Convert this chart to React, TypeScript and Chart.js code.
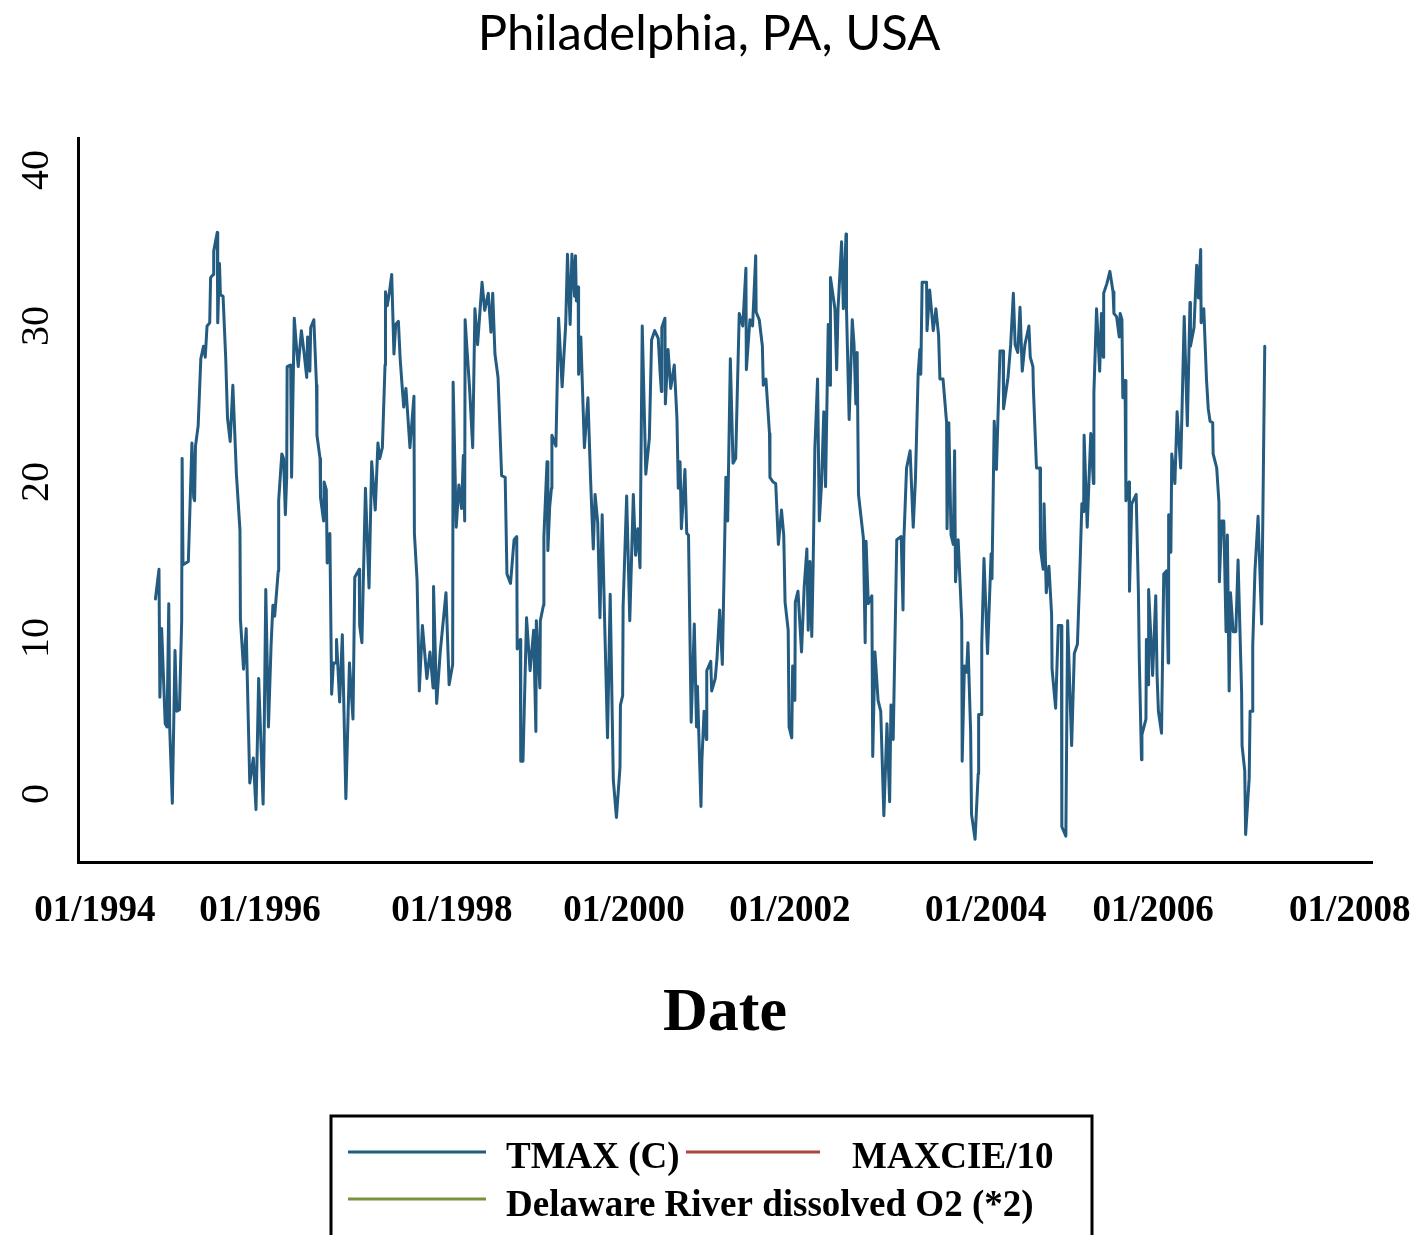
import React, { useEffect, useRef } from "react";
import { Chart, registerables } from "chart.js";

Chart.register(...registerables);

const TITLE = "Philadelphia, PA, USA";
const X_AXIS_TITLE = "Date";
const SERIES_LABELS = ["TMAX (C)", "MAXCIE/10", "Delaware River dissolved O2 (*2)"];
const SERIES_COLORS = ["#245b80", "#ad4340", "#77933c"];

// x axis in decimal years
const X_RANGE = [1994.0, 2008.54];
const X_TICK_POSITIONS = [1994.19, 1996.045, 1998.2, 2000.135, 2002.0, 2004.2, 2006.08, 2008.29];
const X_TICK_LABELS = ["01/1994", "01/1996", "01/1998", "01/2000", "01/2002", "01/2004", "01/2006", "01/2008"];

const Y_RANGE = [-4.36, 42.05];
const Y_TICKS = [0, 10, 20, 30, 40];

// sample dates (decimal years)
const DATES = [
  1994.87, 1994.91, 1994.92, 1994.94, 1994.98, 1995.0, 1995.02, 1995.03, 1995.06, 1995.09, 1995.11, 1995.14,
  1995.165, 1995.17, 1995.18, 1995.24, 1995.28, 1995.3, 1995.31, 1995.32, 1995.35, 1995.38, 1995.41, 1995.43,
  1995.45, 1995.48, 1995.49, 1995.52, 1995.525, 1995.565, 1995.57, 1995.59, 1995.6, 1995.63, 1995.66, 1995.68,
  1995.71, 1995.74, 1995.78, 1995.82, 1995.825, 1995.86, 1995.89, 1995.9, 1995.93, 1995.97, 1996.0, 1996.03,
  1996.08, 1996.09, 1996.11, 1996.14, 1996.17, 1996.19, 1996.21, 1996.25, 1996.255, 1996.29, 1996.31, 1996.33,
  1996.345, 1996.35, 1996.39, 1996.4, 1996.43, 1996.46, 1996.475, 1996.51, 1996.54, 1996.57, 1996.58, 1996.605,
  1996.615, 1996.65, 1996.68, 1996.685, 1996.72, 1996.725, 1996.76, 1996.765, 1996.79, 1996.8, 1996.83, 1996.85,
  1996.87, 1996.9, 1996.905, 1996.94, 1996.97, 1997.01, 1997.05, 1997.09, 1997.11, 1997.16, 1997.165, 1997.19,
  1997.23, 1997.27, 1997.3, 1997.34, 1997.37, 1997.39, 1997.42, 1997.45, 1997.455, 1997.475, 1997.5, 1997.525,
  1997.55, 1997.57, 1997.6, 1997.62, 1997.64, 1997.66, 1997.685, 1997.73, 1997.775, 1997.78, 1997.81, 1997.835,
  1997.87, 1997.92, 1997.955, 1997.99, 1997.995, 1998.03, 1998.07, 1998.135, 1998.17, 1998.21, 1998.215, 1998.25,
  1998.28, 1998.31, 1998.33, 1998.345, 1998.35, 1998.37, 1998.4, 1998.435, 1998.46, 1998.49, 1998.54, 1998.57,
  1998.61, 1998.64, 1998.66, 1998.685, 1998.72, 1998.76, 1998.8, 1998.82, 1998.86, 1998.9, 1998.93, 1998.935,
  1998.97, 1998.975, 1999.0, 1999.04, 1999.08, 1999.12, 1999.145, 1999.15, 1999.19, 1999.195, 1999.23, 1999.235,
  1999.27, 1999.28, 1999.3, 1999.32, 1999.325, 1999.37, 1999.4, 1999.44, 1999.48, 1999.5, 1999.53, 1999.55,
  1999.58, 1999.59, 1999.6, 1999.62, 1999.625, 1999.65, 1999.69, 1999.73, 1999.76, 1999.79, 1999.81, 1999.84,
  1999.865, 1999.89, 1999.92, 1999.95, 1999.98, 2000.015, 2000.05, 2000.09, 2000.095, 2000.12, 2000.125, 2000.165,
  2000.2, 2000.24, 2000.265, 2000.29, 2000.315, 2000.34, 2000.38, 2000.42, 2000.445, 2000.48, 2000.52, 2000.54,
  2000.555, 2000.56, 2000.595, 2000.6, 2000.63, 2000.66, 2000.7, 2000.73, 2000.745, 2000.765, 2000.78, 2000.82,
  2000.84, 2000.86, 2000.89, 2000.925, 2000.95, 2000.96, 2001.0, 2001.01, 2001.035, 2001.06, 2001.065, 2001.11,
  2001.12, 2001.16, 2001.18, 2001.21, 2001.24, 2001.26, 2001.28, 2001.3, 2001.33, 2001.36, 2001.39, 2001.43,
  2001.47, 2001.505, 2001.51, 2001.55, 2001.58, 2001.615, 2001.62, 2001.655, 2001.69, 2001.7, 2001.73, 2001.77,
  2001.775, 2001.81, 2001.84, 2001.87, 2001.905, 2001.93, 2001.945, 2001.98, 2001.99, 2002.02, 2002.03, 2002.055,
  2002.06, 2002.09, 2002.13, 2002.16, 2002.19, 2002.205, 2002.225, 2002.245, 2002.26, 2002.28, 2002.31, 2002.33,
  2002.355, 2002.38, 2002.4, 2002.43, 2002.45, 2002.455, 2002.505, 2002.525, 2002.54, 2002.58, 2002.6, 2002.63,
  2002.635, 2002.665, 2002.7, 2002.72, 2002.74, 2002.755, 2002.77, 2002.825, 2002.845, 2002.855, 2002.88, 2002.92,
  2002.93, 2002.955, 2002.99, 2003.02, 2003.055, 2003.09, 2003.12, 2003.135, 2003.16, 2003.2, 2003.25, 2003.27,
  2003.28, 2003.31, 2003.35, 2003.385, 2003.41, 2003.44, 2003.46, 2003.47, 2003.485, 2003.535, 2003.54, 2003.57,
  2003.61, 2003.64, 2003.67, 2003.685, 2003.72, 2003.76, 2003.765, 2003.785, 2003.81, 2003.835, 2003.85, 2003.86,
  2003.89, 2003.93, 2003.935, 2003.96, 2003.985, 2004.0, 2004.03, 2004.04, 2004.08, 2004.115, 2004.12, 2004.15,
  2004.155, 2004.18, 2004.22, 2004.26, 2004.27, 2004.295, 2004.32, 2004.34, 2004.36, 2004.395, 2004.4, 2004.45,
  2004.48, 2004.51, 2004.53, 2004.56, 2004.585, 2004.61, 2004.64, 2004.685, 2004.7, 2004.73, 2004.735, 2004.77,
  2004.81, 2004.815, 2004.845, 2004.855, 2004.88, 2004.91, 2004.94, 2004.945, 2004.985, 2005.015, 2005.05, 2005.055,
  2005.1, 2005.12, 2005.165, 2005.195, 2005.23, 2005.255, 2005.28, 2005.3, 2005.305, 2005.34, 2005.38, 2005.41,
  2005.415, 2005.445, 2005.48, 2005.5, 2005.52, 2005.525, 2005.56, 2005.595, 2005.63, 2005.64, 2005.67, 2005.7,
  2005.71, 2005.73, 2005.74, 2005.765, 2005.775, 2005.81, 2005.815, 2005.84, 2005.89, 2005.915, 2005.925, 2005.95,
  2005.955, 2006.0, 2006.005, 2006.025, 2006.03, 2006.075, 2006.11, 2006.125, 2006.14, 2006.175, 2006.2, 2006.23,
  2006.25, 2006.255, 2006.28, 2006.29, 2006.325, 2006.35, 2006.39, 2006.43, 2006.465, 2006.495, 2006.5, 2006.54,
  2006.57, 2006.59, 2006.615, 2006.62, 2006.65, 2006.68, 2006.7, 2006.72, 2006.75, 2006.755, 2006.795, 2006.82,
  2006.825, 2006.85, 2006.875, 2006.9, 2006.915, 2006.935, 2006.95, 2006.98, 2007.01, 2007.035, 2007.075, 2007.08,
  2007.11, 2007.12, 2007.16, 2007.17, 2007.195, 2007.2, 2007.225, 2007.26, 2007.3, 2007.335,
];

// daily maximum temperature (C)
const TMAX = [
  12.5, 14.4, 6.2, 10.6, 4.5, 4.3, 12.2, 4.3, -0.6, 9.2, 5.3, 5.4,
  11.1, 21.5, 14.7, 14.9, 22.5, 19, 18.8, 22.3, 23.6, 27.9, 28.7, 28.0,
  30, 30.2, 33.1, 33.3, 34.8, 36, 30.2, 34, 32, 31.9, 27.9, 24.1,
  22.6, 26.2, 20.5, 16.9, 11.2, 8.0, 10.6, 8.0, 0.7, 2.3, -1, 7.4,
  -0.65, 2.9, 13.1, 4.3, 9.6, 12.1, 11.4, 14.3, 18.8, 21.8, 21.5, 17.9,
  20.3, 27.4, 27.5, 20.3, 30.5, 28.3, 27.4, 29.7, 28.3, 26.7, 29.3, 27.1,
  29.9, 30.4, 26.2, 23, 21.5, 19, 17.5, 20, 19.5, 14.8, 16.7, 6.4,
  8.4, 8.4, 9.9, 5.9, 10.2, -0.3, 8.4, 4.8, 13.9, 14.4, 10.8, 9.7,
  19.6, 13.2, 21.3, 18.2, 22.5, 21.5, 22.2, 27.5, 32.2, 31.3, 32.2, 33.3,
  28.2, 30.1, 30.3, 27.9, 26.3, 24.8, 26, 22.2, 25.5, 16.7, 13.7, 6.6,
  10.8, 7.4, 9.1, 6.8, 13.3, 5.8, 9.1, 12.9, 7.0, 8.3, 26.4, 17.1,
  19.8, 18.3, 21.7, 17.5, 30.4, 28.6, 26, 22.2, 31.1, 28.8, 32.8, 31,
  32.1, 29.6, 32.1, 28.2, 26.7, 20.4, 20.3, 14.1, 13.5, 16.3, 16.5, 9.3,
  9.9, 2.1, 2.1, 11.3, 7.9, 10.5, 4.0, 11.1, 6.8, 11.1, 12.1, 16.5,
  21.3, 15.6, 18.4, 19.6, 23, 22.3, 30.5, 26.1, 30.1, 34.6, 30.1, 34.6,
  31.9, 34.5, 31.6, 32.5, 26.9, 29.3, 22.2, 25.4, 20.1, 15.7, 19.2, 17.4,
  11.3, 17.9, 10.5, 3.6, 12.8, 0.9, -1.5, 1.7, 5.7, 6.3, 12, 19.1,
  11.1, 19.2, 15.3, 17, 14.5, 30, 20.5, 22.8, 29.1, 29.7, 29.2, 27.1,
  25.8, 29.9, 30.5, 25, 28.5, 26, 27.5, 24.1, 19.6, 21.3, 17, 20.8,
  16.7, 16.6, 4.6, 10.9, 4.3, 6.9, -0.8, 2.1, 5.3, 3.5, 7.9, 8.5,
  6.6, 7.4, 8.7, 11.8, 8.3, 14.3, 20.3, 17.5, 27.9, 21.2, 21.5, 30.8,
  30, 33.7, 27.2, 30.4, 30, 34.5, 30.9, 30.4, 28.7, 26.2, 26.6, 23.1,
  20.3, 20, 19.9, 16, 18.2, 16.6, 12.3, 10.5, 4.3, 3.6, 8.2, 6,
  12.3, 13, 9.1, 13.3, 15.7, 10.5, 14.9, 10.1, 14.5, 22.2, 26.6, 17.5,
  19.9, 24.5, 19.7, 30.1, 26.2, 33.1, 31.1, 27.2, 31.1, 35.4, 31.1, 35.9,
  31.1, 24, 30.4, 28.8, 25, 28.3, 19.2, 16.4, 9.7, 16.2, 12.2, 12.7,
  2.4, 9.1, 6, 5.3, -1.4, 4.5, -0.5, 5.7, 3.5, 16.3, 16.5, 11.8,
  16.3, 20.9, 22.0, 17.1, 20.2, 26.9, 28.5, 26.9, 32.8, 32.8, 29.7, 32.3,
  29.7, 31.1, 29.4, 26.6, 26.6, 23.8, 17, 23.8, 16.6, 16, 22, 13.6,
  16.3, 11.1, 2.1, 8.2, 7.8, 9.7, 4.0, -1.3, -2.9, 1.3, 5.1, 5.1,
  9.6, 15.1, 9.0, 15.4, 13.8, 23.9, 20.8, 24.7, 28.4, 28.4, 24.7, 26.7,
  28.8, 32.1, 28.8, 28.3, 31.2, 27.1, 28.8, 30, 28, 27.4, 26, 20.9,
  20.9, 15.7, 14.4, 18.6, 12.9, 14.6, 11.5, 8.0, 5.5, 10.8, 10.8, -2.1,
  -2.7, 11.1, 3.1, 9.0, 9.6, 13.8, 18.6, 18.1, 23, 17.1, 23.1, 19.9,
  25.7, 31.1, 27.1, 30.8, 28, 32.1, 32.7, 33.5, 32.2, 30.8, 30.6, 29.3,
  30.8, 30.4, 25.4, 26.5, 18.8, 20, 13, 18.6, 19.2, 13, 8.7, 2.2,
  3.8, 4.8, 9.9, 7, 13.1, 7.6, 12.7, 7.6, 5.3, 3.9, 14.1, 14.3,
  8.4, 17.9, 15.5, 21.8, 19.9, 24.5, 20.9, 30.6, 23.6, 31.5, 28.7, 29.9,
  33.9, 31.8, 34.9, 30.2, 31.1, 26.6, 24.7, 23.9, 23.8, 21.8, 20.9, 18.7,
  13.6, 17.5, 17.5, 10.4, 16.6, 6.6, 12.9, 10.4, 10.4, 15, 6.5, 3.1,
  1.5, -2.6, 1, 5.3, 5.3, 9.5, 14.3, 17.8, 10.9, 28.7,
];

// series shown in the legend only (no samples drawn)
const MAXCIE_DIV10: number[] = [];
const DISSOLVED_O2_X2: number[] = [];

const SERIF = '"Liberation Serif", "DejaVu Serif", serif';

const rotatedYLabels = {
  id: "rotatedYLabels",
  afterDraw(chart: any) {
    const ctx = chart.ctx;
    const ys = chart.scales.y;
    ctx.save();
    ctx.font = `40px ${SERIF}`;
    ctx.fillStyle = "#000";
    ctx.textAlign = "center";
    ctx.textBaseline = "middle";
    Y_TICKS.forEach((v) => {
      const py = ys.getPixelForValue(v);
      ctx.save();
      ctx.translate(ys.left + 37, py);
      ctx.rotate(-Math.PI / 2);
      ctx.fillText(String(v), 0, 0);
      ctx.restore();
    });
    ctx.restore();
  },
};

const boxedLegend = {
  id: "boxedLegend",
  afterDraw(chart: any) {
    const ctx = chart.ctx;
    const ds = chart.data.datasets;
    ctx.save();
    // frame
    ctx.strokeStyle = "#000";
    ctx.lineWidth = 3;
    ctx.strokeRect(331, 1116, 761, chart.height - 1116 + 10);
    const items = [
      { i: 0, x1: 348, x2: 486, ly: 1152, tx: 506, ty: 1158 },
      { i: 1, x1: 686, x2: 820, ly: 1152, tx: 852, ty: 1158 },
      { i: 2, x1: 348, x2: 486, ly: 1199, tx: 506, ty: 1206 },
    ];
    ctx.font = `bold 37px ${SERIF}`;
    ctx.textAlign = "left";
    ctx.textBaseline = "middle";
    items.forEach((it) => {
      const d = ds[it.i];
      ctx.strokeStyle = d.borderColor;
      ctx.lineWidth = 3;
      ctx.beginPath();
      ctx.moveTo(it.x1, it.ly);
      ctx.lineTo(it.x2, it.ly);
      ctx.stroke();
      ctx.fillStyle = "#000";
      ctx.fillText(d.label, it.tx, it.ty);
    });
    ctx.restore();
  },
};

export default function App() {
  const canvasRef = useRef<HTMLCanvasElement | null>(null);

  useEffect(() => {
    if (!canvasRef.current) return;
    const toPoints = (vals: number[]) => vals.map((y, k) => ({ x: DATES[k], y }));
    const chart = new Chart(canvasRef.current, {
      type: "line",
      data: {
        datasets: [
          {
            label: SERIES_LABELS[0],
            data: toPoints(TMAX),
            borderColor: SERIES_COLORS[0],
            backgroundColor: SERIES_COLORS[0],
            borderWidth: 3,
            pointRadius: 0,
            tension: 0,
            borderJoinStyle: "round",
            borderCapStyle: "round",
          },
          {
            label: SERIES_LABELS[1],
            data: toPoints(MAXCIE_DIV10),
            borderColor: SERIES_COLORS[1],
            backgroundColor: SERIES_COLORS[1],
            borderWidth: 3,
            pointRadius: 0,
          },
          {
            label: SERIES_LABELS[2],
            data: toPoints(DISSOLVED_O2_X2),
            borderColor: SERIES_COLORS[2],
            backgroundColor: SERIES_COLORS[2],
            borderWidth: 3,
            pointRadius: 0,
          },
        ],
      },
      options: {
        animation: false,
        responsive: false,
        devicePixelRatio: 1,
        layout: { padding: { left: 0, right: 0, top: 0, bottom: 150 } },
        plugins: {
          legend: { display: false },
          tooltip: { enabled: false },
          title: {
            display: true,
            text: TITLE,
            color: "#000",
            font: { family: "Lato, 'Open Sans', sans-serif", size: 49, weight: "normal" },
            padding: { top: 5, bottom: 74.2 },
          },
        },
        scales: {
          x: {
            type: "linear",
            min: X_RANGE[0],
            max: X_RANGE[1],
            afterBuildTicks: (scale: any) => {
              scale.ticks = X_TICK_POSITIONS.map((value) => ({ value }));
            },
            afterFit: (scale: any) => {
              scale.height = 223;
              scale.paddingLeft = 0;
              scale.paddingRight = 46;
            },
            grid: { display: false, drawTicks: false },
            border: { display: true, color: "#000", width: 3 },
            ticks: {
              autoSkip: false,
              maxRotation: 0,
              minRotation: 0,
              padding: 27,
              color: "#000",
              font: { family: SERIF, size: 37, weight: "bold" },
              callback: (_v: any, i: number) => X_TICK_LABELS[i],
            },
            title: {
              display: true,
              text: X_AXIS_TITLE,
              color: "#000",
              font: { family: SERIF, size: 62, weight: "bold" },
              padding: { top: 0, bottom: 34 },
            },
          },
          y: {
            type: "linear",
            min: Y_RANGE[0],
            max: Y_RANGE[1],
            afterFit: (scale: any) => {
              scale.width = 78;
            },
            grid: { display: false, drawTicks: false },
            border: { display: true, color: "#000", width: 3 },
            ticks: { display: false },
          },
        },
      },
      plugins: [rotatedYLabels, boxedLegend],
    } as any);
    return () => chart.destroy();
  }, []);

  return (
    <div style={{ position: "absolute", left: 0, top: 0, width: 1418, height: 1235, background: "#fff" }}>
      <canvas ref={canvasRef} width={1418} height={1235} style={{ display: "block" }} />
    </div>
  );
}
